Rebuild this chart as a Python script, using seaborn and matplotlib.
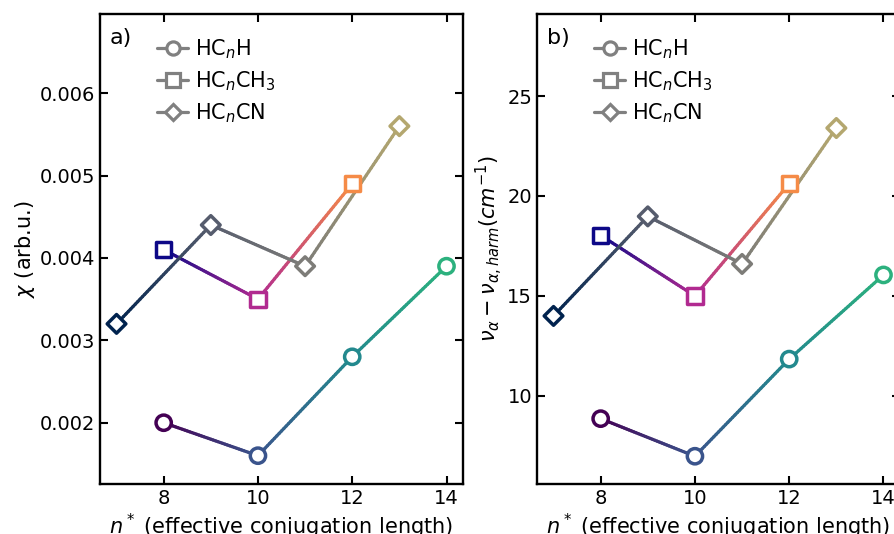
import numpy as np
import matplotlib
matplotlib.use("Agg")
import matplotlib.pyplot as plt
from matplotlib.collections import LineCollection
from matplotlib.lines import Line2D
from matplotlib.colors import to_rgb
import seaborn as sns

# effective conjugation length n* for each family
n_hch = [8, 10, 12, 14]
n_hcch3 = [8, 10, 12]
n_hccn = [7, 9, 11, 13]

# panel a: chi (arb.u.)
chi_hch = [0.0020, 0.0016, 0.0028, 0.0039]
chi_hcch3 = [0.0041, 0.0035, 0.0049]
chi_hccn = [0.0032, 0.0044, 0.0039, 0.0056]

# panel b: anharmonic shift (cm^-1)
dnu_hch = [8.86, 6.98, 11.84, 16.05]
dnu_hcch3 = [18.03, 15.0, 20.62]
dnu_hccn = [14.0, 18.98, 16.6, 23.4]

labels = [r"HC$_n$H", r"HC$_n$CH$_3$", r"HC$_n$CN"]
x_ticks = [8, 10, 12, 14]

# styling: marker, colormap and where on the colormap each point sits
styles = [
    dict(marker="o", ms=11.0, lms=9.5, cmap="viridis", pos=[0.0, 0.26, 0.47, 0.64]),
    dict(marker="s", ms=11.0, lms=9.5, cmap="plasma", pos=[0.0, 0.40, 0.72]),
    dict(marker="D", ms=9.5, lms=8.5, cmap="cividis", pos=[0.0, 0.33, 0.5, 0.72]),
]

sns.set_style("ticks")
plt.rcParams["font.family"] = ["DejaVu Sans"]
plt.rcParams["mathtext.fontset"] = "dejavusans"
for key in ["text.color", "axes.labelcolor", "xtick.color", "ytick.color",
            "axes.edgecolor"]:
    plt.rcParams[key] = "black"

FS_TICK = 14
FS_LABEL = 15
FS_LEG = 15
FS_TAG = 16
LW = 2.3


def gradient_line(ax, x, y, colors, lw):
    segs, cols = [], []
    for i in range(len(x) - 1):
        t = np.linspace(0.0, 1.0, 41)
        xs = x[i] + (x[i + 1] - x[i]) * t
        ys = y[i] + (y[i + 1] - y[i]) * t
        pts = np.column_stack([xs, ys])
        for j in range(len(t) - 1):
            segs.append(pts[j:j + 2])
        c0 = np.array(colors[i])
        c1 = np.array(colors[i + 1])
        tm = 0.5 * (t[:-1] + t[1:])
        cols.extend(c0[None, :] * (1 - tm[:, None]) + c1[None, :] * tm[:, None])
    lc = LineCollection(segs, colors=cols, linewidths=lw, capstyle="round", zorder=2)
    ax.add_collection(lc)


fig = plt.figure(figsize=(8.94, 5.34), dpi=100)
ax_a = fig.add_axes([0.1119, 0.0936, 0.406, 0.880])
ax_b = fig.add_axes([0.6007, 0.0936, 0.406, 0.880])

panels = [
    (ax_a, [chi_hch, chi_hcch3, chi_hccn], (0.001256, 0.00696), "a)",
     r"$\chi$ (arb.u.)"),
    (ax_b, [dnu_hch, dnu_hcch3, dnu_hccn], (5.59, 29.1), "b)",
     r"$\nu_{\alpha} - \nu_{\alpha,harm}(cm^{-1})$"),
]
xs_all = [n_hch, n_hcch3, n_hccn]

for ax, ys_all, ylim, tag, ylab in panels:
    for xs, ys, st in zip(xs_all, ys_all, styles):
        cmap = plt.get_cmap(st["cmap"])
        colors = [to_rgb(cmap(p)) for p in st["pos"]]
        gradient_line(ax, xs, ys, colors, LW)
        sns.scatterplot(x=xs, y=ys, ax=ax, marker=st["marker"], s=st["ms"] ** 2,
                        zorder=3, legend=False)
        pts = ax.collections[-1]
        pts.set_facecolor("white")
        pts.set_edgecolor(colors)
        pts.set_linewidth(LW + 0.2)

    ax.set_xlim(6.65, 14.35)
    ax.set_ylim(*ylim)
    ax.set_xticks(x_ticks)
    ax.tick_params(direction="in", top=True, right=True, length=6, width=1.5,
                   labelsize=FS_TICK, colors="black")
    for sp in ax.spines.values():
        sp.set_linewidth(1.7)
        sp.set_color("black")
    ax.set_xlabel(r"$n^*$ (effective conjugation length)", fontsize=FS_LABEL,
                  labelpad=2.5)
    ax.set_ylabel(ylab, fontsize=FS_LABEL, labelpad=2)
    ax.text(0.027, 0.949, tag, transform=ax.transAxes, fontsize=FS_TAG,
            ha="left", va="center")

    handles = [
        Line2D([], [], color="#808080", lw=LW, marker=st["marker"],
               markersize=st["lms"], markerfacecolor="white",
               markeredgecolor="#808080", markeredgewidth=LW)
        for st in styles
    ]
    ax.legend(handles, labels, loc="upper left", bbox_to_anchor=(0.105, 0.99),
              frameon=False, fontsize=FS_LEG, handlelength=1.5,
              handletextpad=0.35, labelspacing=0.4)

fig.savefig("out.png", dpi=100)
